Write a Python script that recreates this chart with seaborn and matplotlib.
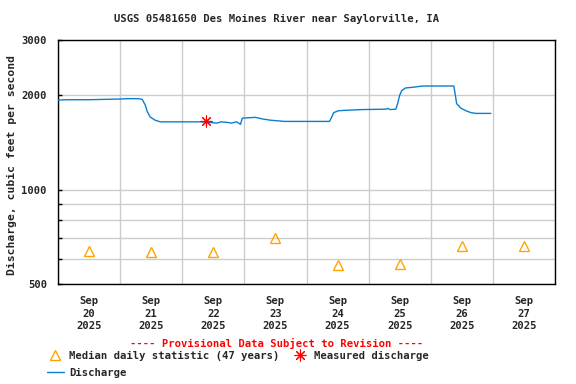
import numpy as np
import pandas as pd
import matplotlib
matplotlib.use("Agg")
import matplotlib.pyplot as plt
import matplotlib.dates as mdates
from matplotlib.ticker import FixedLocator, NullFormatter
from matplotlib.lines import Line2D
import seaborn as sns

# ------------------------------------------------------------
# data read off the USGS hydrograph
# ------------------------------------------------------------
START = pd.Timestamp("2025-09-20 00:00")

# hours since Sep 20 00:00, discharge (cfs)
q_hours = [0, 3.4, 12, 24, 27, 31, 32.5, 33.7, 34.5, 35.6, 37.5, 39.5, 48,
           55, 61.5, 63, 65, 67, 69, 70.5, 71.2, 76.3, 79, 82, 87.5, 104.9,
           105.7, 106.5, 108.4, 111, 117.7, 126.6, 127.5, 128.3, 130.5,
           131.2, 132, 132.8, 134.3, 137, 140.9, 152.9,
           153.3, 154, 155.6, 157.5, 159.5, 161.4, 167.2]
q_cfs = [1930, 1935, 1935, 1945, 1950, 1950, 1940, 1862, 1771, 1705, 1665, 1645, 1645,
         1645, 1630, 1645, 1640, 1630, 1645, 1615, 1690, 1700, 1680, 1665, 1650, 1650,
         1700, 1760, 1785, 1790, 1800, 1805, 1815, 1800, 1805,
         1880, 2000, 2070, 2110, 2120, 2140, 2140,
         2050, 1880, 1820, 1785, 1760, 1750, 1750]

median_days = ["2025-09-20", "2025-09-21", "2025-09-22", "2025-09-23",
               "2025-09-24", "2025-09-25", "2025-09-26", "2025-09-27"]
median_cfs = [637, 634, 634, 701, 575, 579, 661, 661]

measured_time = ["2025-09-22 09:20"]
measured_cfs = [1655]

tick_days = median_days

BLUE = "#0a7fd0"
ORANGE = "#ffa500"
RED = "#ff0000"
FONT = ["DejaVu Sans Mono"]
FS = 7.6

sns.set_style("white")
plt.rcParams["font.family"] = FONT
plt.rcParams["font.weight"] = "bold"
plt.rcParams["font.size"] = FS

df_q = pd.DataFrame({"time": START + pd.to_timedelta(q_hours, unit="h"), "cfs": q_cfs})
df_med = pd.DataFrame({"time": pd.to_datetime(median_days) + pd.Timedelta(hours=12), "cfs": median_cfs})
df_meas = pd.DataFrame({"time": pd.to_datetime(measured_time), "cfs": measured_cfs})

fig = plt.figure(figsize=(5.76, 3.84), dpi=100)
ax = fig.add_axes([58 / 576, 1 - 284 / 384, 497 / 576, 244 / 384])

sns.lineplot(data=df_q, x="time", y="cfs", ax=ax, color=BLUE, linewidth=1.0, zorder=3)
sns.lineplot(data=df_med, x="time", y="cfs", ax=ax, linestyle="none", marker="^",
             markersize=7, markerfacecolor="none", markeredgecolor=ORANGE,
             markeredgewidth=1.0, zorder=4)
sns.lineplot(data=df_meas, x="time", y="cfs", ax=ax, linestyle="none", marker=(8, 2, 0),
             markersize=8.5, markeredgecolor=RED, color=RED, markeredgewidth=0.8, zorder=5)

ax.set_yscale("log")
ax.set_ylim(500, 3000)
ax.yaxis.set_major_locator(FixedLocator([500, 1000, 2000, 3000]))
ax.yaxis.set_major_formatter(matplotlib.ticker.FuncFormatter(lambda v, p: f"{int(v)}"))
ax.yaxis.set_minor_locator(FixedLocator([600, 700, 800, 900]))
ax.yaxis.set_minor_formatter(NullFormatter())

ax.set_xlim(START, START + pd.Timedelta(days=8))
ax.xaxis.set_major_locator(FixedLocator(mdates.date2num(pd.to_datetime(tick_days) + pd.Timedelta(hours=12))))
ax.xaxis.set_major_formatter(mdates.DateFormatter("%b\n%d\n%Y"))
ax.xaxis.set_minor_locator(FixedLocator(mdates.date2num(pd.date_range(START, periods=9, freq="D"))))

ax.grid(False)
ax.grid(True, which="minor", axis="x", color="#cccccc", linewidth=1)
ax.grid(True, which="both", axis="y", color="#cccccc", linewidth=1)
ax.set_axisbelow(True)
ax.tick_params(axis="x", which="both", length=0, pad=9)
ax.tick_params(axis="y", which="both", direction="in", length=3, width=1,
               color="black", pad=8, left=True)
for lab in ax.get_xticklabels() + ax.get_yticklabels():
    lab.set_fontweight("bold")
    lab.set_linespacing(1.3)
for s in ax.spines.values():
    s.set_color("black")
    s.set_linewidth(1)
ax.set_xlabel("")
ax.set_ylabel("")

fig.text(277 / 576, 1 - 19 / 384, "USGS 05481650 Des Moines River near Saylorville, IA",
         ha="center", va="center", fontsize=FS, fontweight="bold")
fig.text(12 / 576, 1 - 165 / 384, "Discharge, cubic feet per second", rotation=90,
         ha="center", va="center", fontsize=8.2, fontweight="bold")
fig.text(277 / 576, 1 - 343 / 384, "---- Provisional Data Subject to Revision ----",
         ha="center", va="center", fontsize=FS, fontweight="bold", color=RED)

h_med = Line2D([], [], linestyle="none", marker="^", markersize=7, markerfacecolor="none",
               markeredgecolor=ORANGE, markeredgewidth=1.0)
h_meas = Line2D([], [], linestyle="none", marker=(8, 2, 0), markersize=8.5,
                markeredgecolor=RED, markeredgewidth=0.8)
h_q = Line2D([], [], color=BLUE, linewidth=1.0)
fig.legend([h_med, h_q, h_meas],
           ["Median daily statistic (47 years)", "Discharge", "Measured discharge"],
           ncol=2, loc="upper left", bbox_to_anchor=(47 / 576, 1 - 351 / 384),
           frameon=False, handlelength=1.6, handletextpad=0.5, columnspacing=1.15,
           borderaxespad=0, borderpad=0, labelspacing=0.64,
           prop={"family": FONT, "weight": "bold", "size": FS})

fig.savefig("out.png", dpi=100)
